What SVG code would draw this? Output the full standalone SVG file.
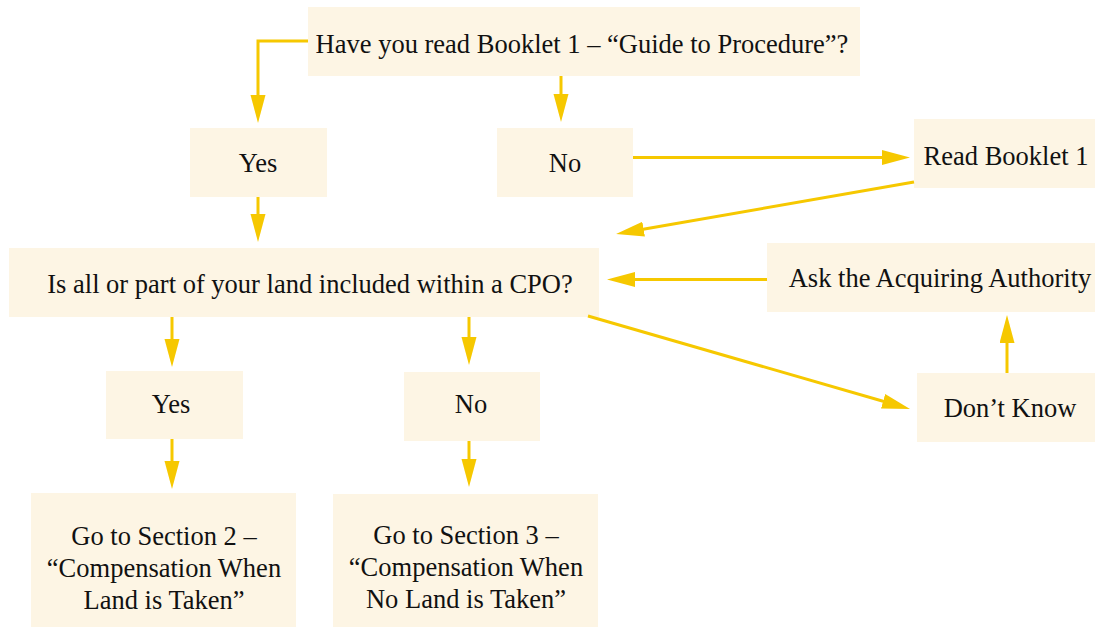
<svg xmlns="http://www.w3.org/2000/svg" width="1095" height="627" viewBox="0 0 1095 627">
<style>
.box{fill:#FDF5E4;}
.t{font-family:"Liberation Serif","Times New Roman",serif;font-size:26.5px;fill:#111;text-anchor:middle;}
.c{fill:none;stroke:#F6C800;stroke-width:3;}
</style>
<defs>
<marker id="ah" markerUnits="userSpaceOnUse" markerWidth="30" markerHeight="16" refX="18" refY="7.5" orient="auto">
<path d="M0,0 L28,7.5 L0,15 z" fill="#F6C800"/>
</marker>
</defs>
<rect width="1095" height="627" fill="#fff"/>
<g id="n-read"><rect class="box" x="308" y="7" width="552" height="69"/><text class="t" x="582" y="53">Have you read Booklet 1 – “Guide to Procedure”?</text></g>
<g id="n-yes1"><rect class="box" x="190" y="128" width="137" height="69"/><text class="t" x="258" y="172">Yes</text></g>
<g id="n-no1"><rect class="box" x="497" y="128" width="136" height="69"/><text class="t" x="565" y="172">No</text></g>
<g id="n-booklet"><rect class="box" x="914" y="119" width="181" height="69"/><text class="t" x="1006" y="165">Read Booklet 1</text></g>
<g id="n-cpo"><rect class="box" x="9" y="248" width="590" height="69"/><text class="t" x="310" y="293">Is all or part of your land included within a CPO?</text></g>
<g id="n-ask"><rect class="box" x="767" y="243" width="328" height="69"/><text class="t" x="940" y="287">Ask the Acquiring Authority</text></g>
<g id="n-yes2"><rect class="box" x="106" y="371" width="137" height="68"/><text class="t" x="171" y="413">Yes</text></g>
<g id="n-no2"><rect class="box" x="404" y="372" width="136" height="69"/><text class="t" x="471" y="413">No</text></g>
<g id="n-dk"><rect class="box" x="917" y="373" width="178" height="69"/><text class="t" x="1010" y="417">Don’t Know</text></g>
<g id="n-sec2"><rect class="box" x="31" y="493" width="265" height="140"/><text class="t" x="164" y="545">Go to Section 2 –</text><text class="t" x="164" y="577">“Compensation When</text><text class="t" x="164" y="609">Land is Taken”</text></g>
<g id="n-sec3"><rect class="box" x="333" y="494" width="265" height="140"/><text class="t" x="466" y="544">Go to Section 3 –</text><text class="t" x="466" y="576">“Compensation When</text><text class="t" x="466" y="608">No Land is Taken”</text></g>
<g id="connectors" class="c">
<path d="M308,41 H258 V113" marker-end="url(#ah)"/>
<path d="M561,76 V112" marker-end="url(#ah)"/>
<path d="M633,157.5 H900" marker-end="url(#ah)"/>
<path d="M914,182 L625.9,232.3" marker-end="url(#ah)"/>
<path d="M258,197 V232" marker-end="url(#ah)"/>
<path d="M767,279.5 H617" marker-end="url(#ah)"/>
<path d="M172,317 V357" marker-end="url(#ah)"/>
<path d="M469,317 V355" marker-end="url(#ah)"/>
<path d="M172,439 V479" marker-end="url(#ah)"/>
<path d="M469,441 V477" marker-end="url(#ah)"/>
<path d="M588,316 L900.4,406.2" marker-end="url(#ah)"/>
<path d="M1007,373 V325" marker-end="url(#ah)"/>
</g>
</svg>
